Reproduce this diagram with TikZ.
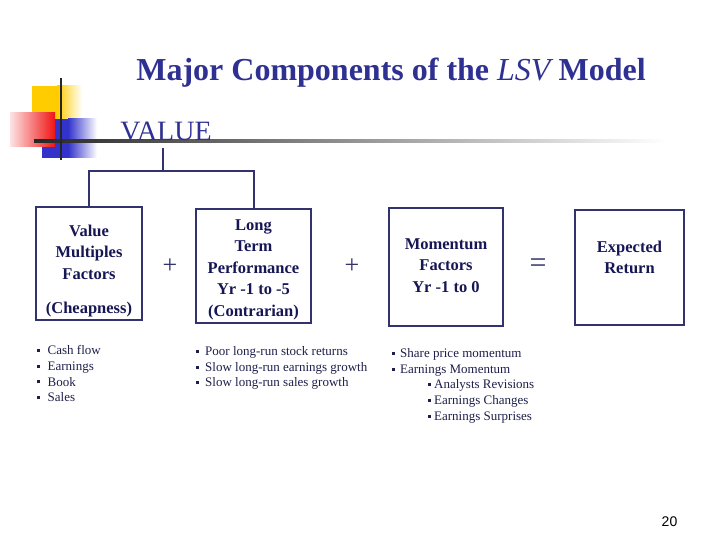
\documentclass[tikz,border=0pt]{standalone}
\usepackage{fontspec}
\setmainfont{Liberation Serif}
\newfontfamily\pnfont{Liberation Sans}
\definecolor{titlecol}{RGB}{46,49,146}
\definecolor{boxcol}{RGB}{50,50,110}
\definecolor{boxtext}{RGB}{22,22,85}
\definecolor{listcol}{RGB}{30,30,75}
\definecolor{decoyel}{RGB}{255,204,0}
\definecolor{decoblue}{RGB}{51,51,204}
\definecolor{decored}{RGB}{240,20,20}
\newcommand\blt{\textcolor{listcol}{\rule[2.6pt]{3pt}{3pt}}}
\begin{document}
\begin{tikzpicture}[x=1pt,y=-1pt,
  compbox/.style={draw=boxcol,line width=2.4pt,minimum width=#1,inner sep=0pt},
  boxlbl/.style={text=boxtext,align=center,inner sep=0pt,font=\fontsize{16.5}{21.5}\selectfont\bfseries},
  tree/.style={draw=boxcol,line width=2pt},
  oper/.style={text=boxcol,inner sep=0pt},
  listtext/.style={text=listcol,align=left,inner sep=0pt,anchor=north west,font=\fontsize{13}{15.6}\selectfont}]
\useasboundingbox (0,0) rectangle (720,540);
% decoration
\fill[decoyel] (32,86) rectangle (57,120);
\shade[left color=decoyel,right color=white] (57,86) rectangle (82,120);
\fill[decoblue] (42,119) rectangle (68,158);
\shade[left color=decoblue,right color=white] (68,119) rectangle (97,158);
\shade[left color=decored!12,right color=decored] (10,113) rectangle (55,147);
\shade[left color=black!85,middle color=black!30,right color=white] (34,139.5) rectangle (667,142.5);
\draw[black!85,line width=2pt] (61,78) -- (61,160);
% title
\node[text=titlecol,inner sep=0pt,font=\fontsize{32}{36}\selectfont] (title) at (391,73)
  {\bfseries Major Components of the \mdseries\itshape LSV\upshape\bfseries{} Model};
\node[text=titlecol,inner sep=0pt,anchor=base,font=\fontsize{28}{30}\selectfont] (value) at (166,141) {VALUE};
% boxes
\node[compbox=106pt,minimum height=113pt] (b1) at (89,263.5) {};
\node[compbox=115pt,minimum height=114pt] (b2) at (253.5,266) {};
\node[compbox=114pt,minimum height=118pt] (b3) at (446,267) {};
\node[compbox=109pt,minimum height=115pt] (b4) at (629.5,267.5) {};
\node[boxlbl] (t1) at (89,252) {Value\\Multiples\\Factors};
\node[boxlbl] (t1b) at (89,310) {(Cheapness)};
\node[boxlbl] (t2) at (253.5,269.5) {Long\\Term\\Performance\\Yr -1 to -5\\(Contrarian)};
\node[boxlbl] (t3) at (446,265.5) {Momentum\\Factors\\Yr -1 to 0};
\node[boxlbl] (t4) at (629.5,257.5) {Expected\\Return};
% operators
\node[oper,font=\fontsize{26}{26}\selectfont] (p1) at (170,266) {+};
\node[oper,font=\fontsize{26}{26}\selectfont] (p2) at (352,266) {+};
\node[oper,font=\fontsize{30}{30}\selectfont] (eq) at (538,266) {=};
% tree
\coordinate (vtop) at (163,148);
\coordinate (junc) at (163,171);
\draw[tree] (vtop) -- (junc);
\draw[tree] (junc) -| (b1.north);
\draw[tree] (junc) -| (b2.north);
% lists
\node[listtext] (l1) at (37,345.5) {\blt\hspace{7.5pt}Cash flow\\\blt\hspace{7.5pt}Earnings\\\blt\hspace{7.5pt}Book\\\blt\hspace{7.5pt}Sales};
\node[listtext] (l2) at (196,346.5) {\blt\hspace{6pt}Poor long-run stock returns\\\blt\hspace{6pt}Slow long-run earnings growth\\\blt\hspace{6pt}Slow long-run sales growth};
\node[listtext] (l3) at (392,348.5) {\blt\hspace{5pt}Share price momentum\\\blt\hspace{5pt}Earnings Momentum\\\hspace{36pt}\blt\hspace{3pt}Analysts Revisions\\\hspace{36pt}\blt\hspace{3pt}Earnings Changes\\\hspace{36pt}\blt\hspace{3pt}Earnings Surprises};
% page number
\node[inner sep=0pt,font=\pnfont\fontsize{14}{14}\selectfont] (pn) at (669.5,522) {20};
\end{tikzpicture}
\end{document}
